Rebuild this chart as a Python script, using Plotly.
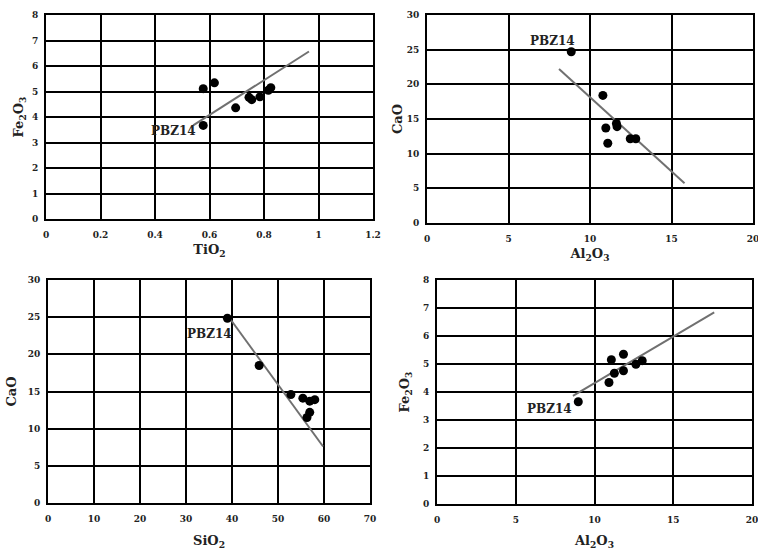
import plotly.graph_objects as go

# Panel 1: TiO2 vs Fe2O3
tio2_p1 = [0.577, 0.618, 0.577, 0.696, 0.745, 0.755, 0.785, 0.816, 0.825]
fe2o3_p1 = [5.11, 5.34, 3.67, 4.36, 4.77, 4.68, 4.79, 5.05, 5.15]
trend_p1_x = [0.54, 0.965]
trend_p1_y = [3.67, 6.57]

# Panel 2: Al2O3 vs CaO
al2o3_p2 = [8.85, 10.79, 10.97, 11.09, 11.62, 11.66, 12.47, 12.81]
cao_p2 = [24.7, 18.4, 13.7, 11.5, 14.35, 13.9, 12.15, 12.15]
trend_p2_x = [8.1, 15.8]
trend_p2_y = [22.2, 5.74]

# Panel 3: SiO2 vs CaO
sio2_p3 = [39.0, 45.9, 52.8, 55.4, 56.9, 58.0, 56.9, 56.3]
cao_p3 = [24.85, 18.5, 14.6, 14.1, 13.7, 13.9, 12.2, 11.5]
trend_p3_x = [39.5, 59.8]
trend_p3_y = [24.85, 7.6]

# Panel 4: Al2O3 vs Fe2O3
al2o3_p4 = [11.07, 11.84, 8.97, 10.92, 11.26, 11.84, 12.63, 13.03]
fe2o3_p4 = [5.15, 5.35, 3.65, 4.34, 4.67, 4.76, 4.99, 5.12]
trend_p4_x = [8.63, 17.6]
trend_p4_y = [3.86, 6.84]

label = "PBZ14"

FONT = "DejaVu Serif"
W, H = 758, 550
fig = go.Figure()


def xd(a, b):
    return [a / W, b / W]


def yd(top, bottom):
    return [1 - bottom / H, 1 - top / H]


panels = [
    dict(x=tio2_p1, y=fe2o3_p1, tx=trend_p1_x, ty=trend_p1_y, xa="x", ya="y",
         xdom=xd(46, 373), ydom=yd(15, 219), xr=[0, 1.2], xd=0.2, yr=[0, 8], yd=1,
         xt="TiO<sub>2</sub>", yt="Fe<sub>2</sub>O<sub>3</sub>", xs=6, ys=5,
         ann=dict(x=0.557, y=3.45, xanchor="right")),
    dict(x=al2o3_p2, y=cao_p2, tx=trend_p2_x, ty=trend_p2_y, xa="x2", ya="y2",
         xdom=xd(427, 753), ydom=yd(15, 223), xr=[0, 20], xd=5, yr=[0, 30], yd=5,
         xt="Al<sub>2</sub>O<sub>3</sub>", yt="CaO", xs=6, ys=1,
         ann=dict(x=7.7, y=26.3, xanchor="center")),
    dict(x=sio2_p3, y=cao_p3, tx=trend_p3_x, ty=trend_p3_y, xa="x3", ya="y3",
         xdom=xd(48, 370), ydom=yd(280, 503), xr=[0, 70], xd=10, yr=[0, 30], yd=5,
         xt="SiO<sub>2</sub>", yt="CaO", xs=19, ys=8,
         ann=dict(x=35.0, y=22.8, xanchor="center")),
    dict(x=al2o3_p4, y=fe2o3_p4, tx=trend_p4_x, ty=trend_p4_y, xa="x4", ya="y4",
         xdom=xd(437, 752), ydom=yd(280, 504), xr=[0, 20], xd=5, yr=[0, 8], yd=1,
         xt="Al<sub>2</sub>O<sub>3</sub>", yt="Fe<sub>2</sub>O<sub>3</sub>", xs=17, ys=10,
         ann=dict(x=8.68, y=3.39, xanchor="right")),
]

layout = {}
for i, p in enumerate(panels):
    fig.add_trace(go.Scatter(x=p["tx"], y=p["ty"], mode="lines", xaxis=p["xa"], yaxis=p["ya"],
                             line=dict(color="#707070", width=2), showlegend=False, hoverinfo="skip"))
    fig.add_trace(go.Scatter(x=p["x"], y=p["y"], mode="markers", xaxis=p["xa"], yaxis=p["ya"],
                             marker=dict(color="black", size=9), showlegend=False))
    suffix = "" if i == 0 else str(i + 1)
    common = dict(showgrid=True, gridcolor="black", gridwidth=2, zeroline=False,
                  showline=True, linecolor="black", linewidth=2, mirror=True, automargin=False,
                  ticks="", ticklabeloverflow="allow",
                  tickfont=dict(family=FONT, size=9, color="#222", weight="bold"),
                  title_font=dict(family=FONT, size=13, color="#222", weight="bold"))
    layout["xaxis" + suffix] = dict(common, domain=p["xdom"], range=p["xr"], dtick=p["xd"], tick0=0,
                                    anchor="y" + suffix, ticklabelstandoff=6,
                                    title=dict(text=p["xt"], standoff=p["xs"]))
    layout["yaxis" + suffix] = dict(common, domain=p["ydom"], range=p["yr"], dtick=p["yd"], tick0=0,
                                    anchor="x" + suffix, ticklabelstandoff=4,
                                    title=dict(text=p["yt"], standoff=p["ys"]))
    fig.add_annotation(x=p["ann"]["x"], y=p["ann"]["y"], xref=p["xa"], yref=p["ya"], text=label,
                       showarrow=False, xanchor=p["ann"]["xanchor"], yanchor="middle",
                       font=dict(family=FONT, size=12, color="#222", weight="bold"))

fig.update_layout(**layout)
fig.update_layout(width=W, height=H, margin=dict(l=0, r=0, t=0, b=0),
                  paper_bgcolor="white", plot_bgcolor="white")
fig.write_html("out.html", config={"displayModeBar": False},
               post_script="document.body.style.margin='0';")
